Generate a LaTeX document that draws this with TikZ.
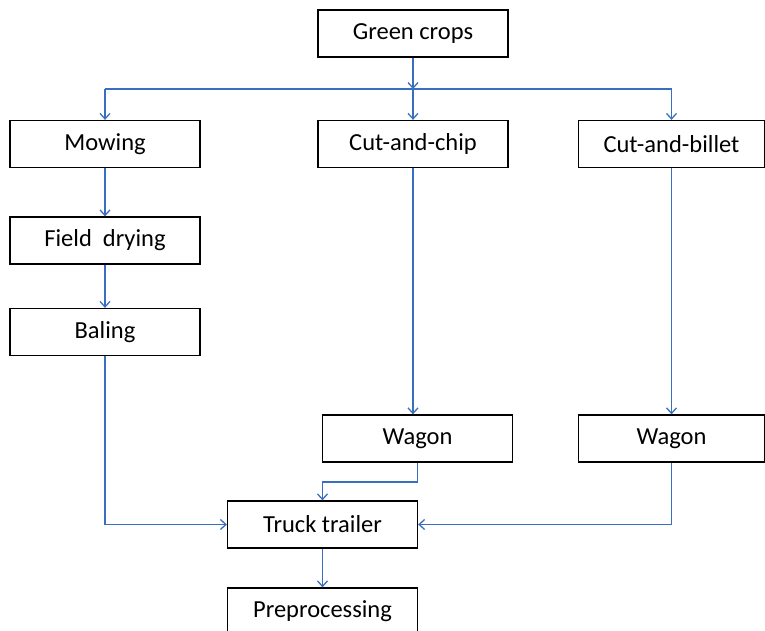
\documentclass[tikz,border=0pt]{standalone}
\usepackage{fontspec}
\setmainfont{Carlito}
\usetikzlibrary{arrows.meta}
\definecolor{flowblue}{HTML}{3A6FC0}
\tikzset{
  stepbox/.style={draw=black, line width=1.3pt, minimum width=190bp, minimum height=47bp,
    inner sep=0pt, font=\fontsize{24.5bp}{27bp}\selectfont, text=black},
  flow/.style={draw=flowblue, line width=1.5pt, -{Straight Barb[length=5.5bp,width=10bp,line width=1.3pt]}},
  plain/.style={draw=flowblue, line width=1.5pt}
}
\begin{document}
\begin{tikzpicture}[x=1bp,y=-1bp]
\useasboundingbox (0,0) rectangle (765,631);
\begin{scope}
\clip (0,0) rectangle (765,631);
% process boxes
\node[stepbox] (green)  at (413,33.5)   {Green crops};
\node[stepbox] (mow)    at (105,144)    {Mowing};
\node[stepbox] (chip)   at (413,144)    {Cut-and-chip};
\node[stepbox, minimum width=186bp] (billet) at (671.5,144) {Cut-and-billet};
\node[stepbox] (field)  at (105,240.5)  {Field~~drying};
\node[stepbox] (bale)   at (105,332)    {Baling};
\node[stepbox] (wag1)   at (417.5,438.5) {Wagon};
\node[stepbox, minimum width=186bp] (wag2) at (671.5,438.5) {Wagon};
\node[stepbox] (truck)  at (322.5,524.5) {Truck trailer};
\node[stepbox] (pre)    at (322.5,611.5) {Preprocessing};

% distribution bar below the green crops
\coordinate (split) at (413,89);
\draw[flow] (green.south) -- (split);
\draw[plain] (mow.north |- split) -- (billet.north |- split);
\draw[flow] (split) -- (chip.north);
\draw[flow] (mow.north |- split) -- (mow.north);
\draw[flow] (billet.north |- split) -- (billet.north);

% hay route
\draw[flow] (mow.south) -- (field.north);
\draw[flow] (field.south) -- (bale.north);
\draw[flow] (bale.south) |- (truck.west);

% chopped and billeted routes
\draw[flow] (chip.south) -- (chip.south |- wag1.north);
\draw[flow] (billet.south) -- (wag2.north);
\coordinate (wbend) at (417.5,482);
\draw[flow] (wag1.south) -- (wbend) -| (truck.north);
\draw[flow] (wag2.south) |- (truck.east);

% to preprocessing
\draw[flow] (truck.south) -- (pre.north);
\end{scope}
\end{tikzpicture}
\end{document}
